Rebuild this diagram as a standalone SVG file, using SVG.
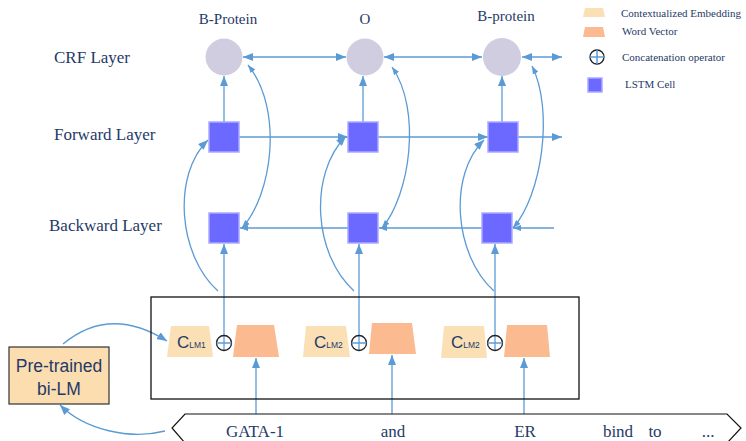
<svg xmlns="http://www.w3.org/2000/svg" width="746" height="441" viewBox="0 0 746 441">
  <style>
    .lbl { font-family: "Liberation Serif", "Times New Roman", serif; fill: #1F3A68; }
    .layer { font-size: 17px; }
    .tag { font-size: 15px; text-anchor: middle; }
    .leg { font-size: 11px; }
    .word { font-size: 17px; text-anchor: middle; }
    .crf { fill: #D1CDE0; }
    .lstm { fill: #6B69FF; stroke: #ABA9FF; stroke-width: 1.5; }
    .ctx { fill: #FBE0B6; }
    .wv { fill: #FBBA8F; }
    .conn { fill: none; stroke: #5B9BD5; stroke-width: 1.3; }
    .big { marker-end: url(#ahBig); }
    .sm { marker-end: url(#ahSm); }
    .both { marker-start: url(#ahSm); marker-end: url(#ahSm); }
    .bothBig { marker-start: url(#ahBig); marker-end: url(#ahBig); }
    .plus circle { fill: none; stroke: #222; stroke-width: 1.3; }
    .plus line { stroke: #5B9BD5; stroke-width: 1.5; }
    .cl { font-family: "Liberation Sans", Arial, sans-serif; fill: #1F3A68; }
  </style>
  <defs>
    <marker id="ahBig" markerUnits="userSpaceOnUse" markerWidth="10" markerHeight="8" refX="10" refY="4" orient="auto-start-reverse">
      <path d="M0,0 L10,4 L0,8 z" fill="#5B9BD5"/>
    </marker>
    <marker id="ahSm" markerUnits="userSpaceOnUse" markerWidth="8" markerHeight="6" refX="8" refY="3" orient="auto-start-reverse">
      <path d="M0,0 L8,3 L0,6 z" fill="#5B9BD5"/>
    </marker>
  </defs>

  <!-- layer titles -->
  <text class="lbl layer" x="54" y="63">CRF Layer</text>
  <text class="lbl layer" x="54" y="140">Forward Layer</text>
  <text class="lbl layer" x="49" y="231">Backward Layer</text>

  <!-- output tags -->
  <text class="lbl tag" x="228" y="24">B-Protein</text>
  <text class="lbl tag" x="365" y="24">O</text>
  <text class="lbl tag" x="506" y="21">B-protein</text>

  <!-- legend -->
  <g id="legend">
    <polygon class="ctx" points="585,8 603,8 605,17 583,17"/>
    <text class="lbl leg" x="621" y="17">Contextualized Embedding</text>
    <polygon class="wv" points="585,27 603,27 605,37 583,37"/>
    <text class="lbl leg" x="622" y="35">Word Vector</text>
    <g class="plus">
      <circle cx="597" cy="57" r="7"/>
      <line x1="590" y1="57" x2="604" y2="57"/>
      <line x1="597" y1="50" x2="597" y2="64"/>
    </g>
    <text class="lbl leg" x="622" y="61">Concatenation operator</text>
    <rect class="lstm" x="588" y="78" width="14" height="14"/>
    <text class="lbl leg" x="625" y="88">LSTM Cell</text>
  </g>

  <!-- connectors -->
  <g id="connectors">
    <!-- CRF transitions -->
    <line class="conn bothBig" x1="243" y1="57" x2="346" y2="57"/>
    <line class="conn bothBig" x1="384" y1="57" x2="482" y2="57"/>
    <line class="conn bothBig" x1="522" y1="57" x2="562" y2="57"/>
    <!-- forward chain -->
    <line class="conn big" x1="239" y1="137" x2="348" y2="137"/>
    <line class="conn big" x1="378" y1="137" x2="488" y2="137"/>
    <line class="conn big" x1="518" y1="137" x2="562" y2="137"/>
    <!-- backward chain -->
    <line class="conn sm" x1="554" y1="228" x2="513" y2="228"/>
    <line class="conn sm" x1="482" y1="228" x2="379" y2="228"/>
    <line class="conn sm" x1="348" y1="228" x2="240" y2="228"/>
    <!-- forward to CRF -->
    <line class="conn big" x1="224" y1="122" x2="224" y2="76"/>
    <line class="conn big" x1="363" y1="122" x2="363" y2="76"/>
    <line class="conn big" x1="502" y1="122" x2="502" y2="76"/>
    <!-- concatenated input to backward cells -->
    <line class="conn big" x1="224" y1="350" x2="224" y2="244"/>
    <line class="conn big" x1="359" y1="350" x2="359" y2="244"/>
    <line class="conn big" x1="495" y1="350" x2="495" y2="244"/>
    <!-- input to forward cells -->
    <path class="conn big" d="M218,291 C178,255 172,175 208,140"/>
    <path class="conn big" d="M354,291 C314,255 308,175 346,136"/>
    <path class="conn big" d="M494,291 C454,255 448,175 484,140"/>
    <!-- backward cells to CRF -->
    <path class="conn both" d="M242,228 C272,195 284,110 248,65"/>
    <path class="conn both" d="M382,228 C410,195 422,110 392,67"/>
    <path class="conn both" d="M513,228 C542,195 554,110 532,66"/>
    <!-- words to word vectors -->
    <line class="conn big" x1="256" y1="414" x2="256" y2="358"/>
    <line class="conn big" x1="392" y1="414" x2="392" y2="355"/>
    <line class="conn big" x1="524" y1="414" x2="524" y2="358"/>
    <!-- bi-LM loop -->
    <path class="conn big" d="M63,344 Q110,305 167,341"/>
    <path class="conn big" d="M165,431 C130,440 85,430 60,405"/>
  </g>

  <!-- CRF nodes -->
  <g id="crf1"><circle class="crf" cx="224" cy="57" r="18.5"/></g>
  <g id="crf2"><circle class="crf" cx="365" cy="57" r="18.5"/></g>
  <g id="crf3"><circle class="crf" cx="502" cy="57" r="19"/></g>

  <!-- forward LSTM cells -->
  <g id="fwd1"><rect class="lstm" x="209" y="122" width="30" height="30"/></g>
  <g id="fwd2"><rect class="lstm" x="348" y="122" width="30" height="30"/></g>
  <g id="fwd3"><rect class="lstm" x="488" y="122" width="30" height="30"/></g>

  <!-- backward LSTM cells -->
  <g id="bwd1"><rect class="lstm" x="209" y="213" width="30" height="30"/></g>
  <g id="bwd2"><rect class="lstm" x="348" y="213" width="30" height="30"/></g>
  <g id="bwd3"><rect class="lstm" x="482" y="213" width="30" height="30"/></g>

  <!-- embedding frame -->
  <g id="embedding-box">
    <rect x="151" y="297" width="428" height="102" fill="none" stroke="#111" stroke-width="1.3"/>
  </g>

  <!-- column 1 embedding -->
  <g id="clm1">
    <polygon class="ctx" points="171,326 209,326 213,357 167,357"/>
    <text class="cl" x="177" y="348" font-size="17">C<tspan font-size="8.5">LM1</tspan></text>
  </g>
  <g id="concat1" class="plus">
    <circle cx="224" cy="343" r="7.5"/>
    <line x1="216.5" y1="343" x2="231.5" y2="343"/>
  </g>
  <g id="wv1"><polygon class="wv" points="237,325 274,325 279,357 233,357"/></g>

  <!-- column 2 embedding -->
  <g id="clm2">
    <polygon class="ctx" points="306,326 346,326 350,357 303,357"/>
    <text class="cl" x="314" y="348" font-size="17">C<tspan font-size="8.5">LM2</tspan></text>
  </g>
  <g id="concat2" class="plus">
    <circle cx="359" cy="343" r="7.5"/>
    <line x1="351.5" y1="343" x2="366.5" y2="343"/>
  </g>
  <g id="wv2"><polygon class="wv" points="372,323 412,323 416,354 369,354"/></g>

  <!-- column 3 embedding -->
  <g id="clm3">
    <polygon class="ctx" points="444,326 484,326 487,358 441,358"/>
    <text class="cl" x="451" y="348" font-size="17">C<tspan font-size="8.5">LM2</tspan></text>
  </g>
  <g id="concat3" class="plus">
    <circle cx="495" cy="343" r="7.5"/>
    <line x1="487.5" y1="343" x2="502.5" y2="343"/>
  </g>
  <g id="wv3"><polygon class="wv" points="507,325 547,325 550,357 504,357"/></g>

  <!-- pre-trained language model -->
  <g id="bilm">
    <rect x="9" y="347" width="100" height="57" fill="#FBDDB0" stroke="#333" stroke-width="1.2"/>
    <text class="cl" x="59" y="372" font-size="17.5" text-anchor="middle">Pre-trained</text>
    <text class="cl" x="59" y="395" font-size="17.5" text-anchor="middle">bi-LM</text>
  </g>

  <!-- input sentence -->
  <g id="sentence">
    <polygon points="185,414 727,414 741,428 727,443 185,443 172,428" fill="none" stroke="#111" stroke-width="1.2"/>
    <text class="lbl word" x="255" y="437">GATA-1</text>
    <text class="lbl word" x="393" y="437">and</text>
    <text class="lbl word" x="525" y="437">ER</text>
    <text class="lbl word" x="618" y="437">bind</text>
    <text class="lbl word" x="655" y="437">to</text>
    <text class="lbl word" x="708" y="437">...</text>
  </g>
</svg>
